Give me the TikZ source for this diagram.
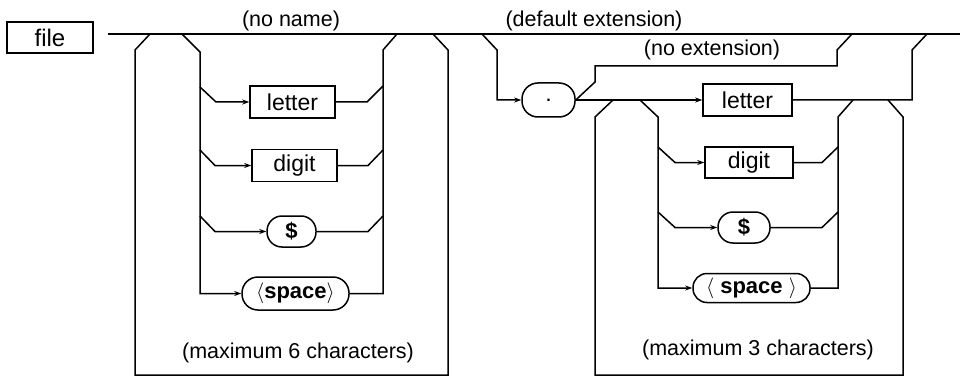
\documentclass[tikz,border=0pt]{standalone}
\usepackage{fontspec}
\setmainfont{Liberation Sans}
\usetikzlibrary{arrows.meta}
\begin{document}
\begin{tikzpicture}[x=1pt,y=-1pt,line width=1.5pt,line join=miter,
  arr/.style={-{Stealth[length=7pt,width=5pt]}},
  box/.style={draw,rectangle,inner sep=0pt,minimum width=#1,minimum height=32pt,
    font=\fontsize{23}{26}\selectfont},
  oval/.style={draw,rectangle,rounded corners=15pt,inner sep=0pt,minimum width=#1,minimum height=31pt,
    font=\fontsize{22}{26}\selectfont\bfseries},
  lbl/.style={inner sep=0pt,font=\fontsize{21.5}{24}\selectfont}]
\useasboundingbox (0,0) rectangle (960,377);
% nodes
\node[box=86,minimum height=31pt,font=\fontsize{24}{26}\selectfont] (file) at (50,37.5) {file};
\node[box=85] (L1) at (292.5,102) {letter};
\node[box=85] (L2) at (294.5,165.5) {digit};
\node[oval=49] (L3) at (291.5,231.5) {\$};
\node[oval=107,minimum height=33pt,rounded corners=16pt] (L4) at (295.5,293.5) {$\langle$space$\rangle$};
\node[oval=53,minimum height=34pt,rounded corners=16pt,font=\fontsize{16}{18}\selectfont\bfseries] (dot) at (548.5,100) {.};
\node[box=89] (R1) at (747.5,100) {letter};
\node[box=88,minimum height=31pt] (R2) at (749,162.5) {digit};
\node[oval=52] (R3) at (744,227.5) {\$};
\node[oval=117,minimum height=29pt,rounded corners=14pt] (R4) at (751.5,288) {$\langle$ space $\rangle$};
% labels
\node[lbl] (t1) at (291,21) {(no name)};
\node[lbl] (t2) at (594,21) {(default extension)};
\node[lbl] (t3) at (712,50) {(no extension)};
\node[lbl] (t4) at (298,353) {(maximum 6 characters)};
\node[lbl] (t5) at (758,350) {(maximum 3 characters)};
% main line
\coordinate (ms) at (108,34);
\coordinate (me) at (960,34);
\draw (ms) -- (me);
% left section
\draw (150,34) -- (135,50) -- (135,375) -- (448,375) -- (448,50) -- (433,34);
\draw[arr] (182,34) -- (200,52) |- (L4.west);
\draw[arr] (200,87) -- (216,102) -- (L1.west);
\draw[arr] (200,150) -- (215,165.5) -- (L2.west);
\draw[arr] (200,216) -- (215,231.5) -- (L3.west);
\draw (L4.east) -| (383,50) -- (397,34);
\draw (L1.east) -- (367,102) -- (383,86);
\draw (L2.east) -- (368,165.5) -- (383,150);
\draw (L3.east) -- (368,231.5) -- (383,216);
% right section
\draw[arr] (482,34) -- (497,50) |- (dot.west);
\draw[arr] (dot.east) -- (R1.west);
\draw (R1.east) -| (912,50) -- (927,34);
\draw (dot.east) -- (595,82) -- (595,66) -- (837,66) -- (837,50) -- (852,34);
\draw (888,100) -- (903,117) -- (903,375) -- (595,375) -- (595,117) -- (613,100);
\draw[arr] (640,100) -- (658,117) |- (R4.west);
\draw[arr] (658,147) -- (675,162.5) -- (R2.west);
\draw[arr] (658,212) -- (675,227.5) -- (R3.west);
\draw (R4.east) -| (838,117) -- (853,100);
\draw (R2.east) -- (822,162.5) -- (838,147);
\draw (R3.east) -- (822,227.5) -- (838,212);
\end{tikzpicture}
\end{document}
